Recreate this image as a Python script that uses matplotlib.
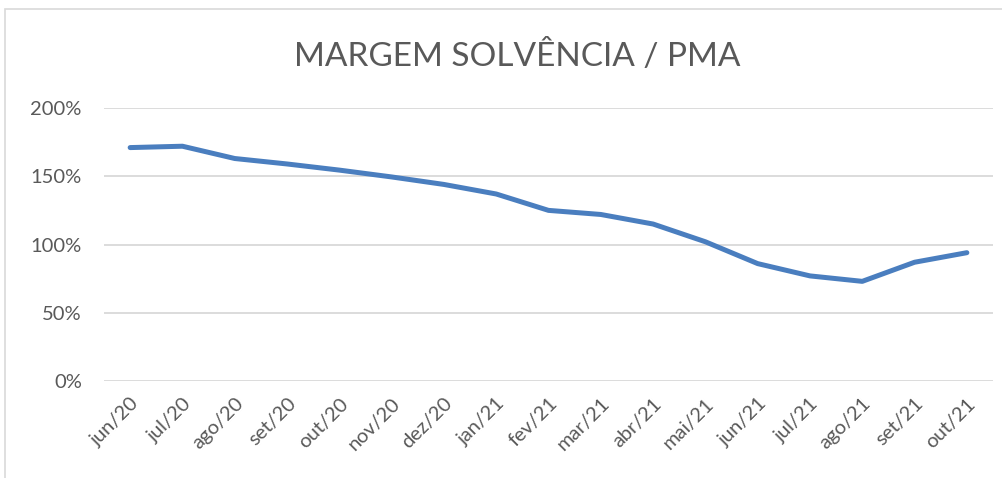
import matplotlib
matplotlib.use("Agg")
import matplotlib.pyplot as plt
from matplotlib.patches import Rectangle
from matplotlib.ticker import PercentFormatter

# ---- data -----------------------------------------------------------------
months = ["jun/20", "jul/20", "ago/20", "set/20", "out/20", "nov/20", "dez/20",
          "jan/21", "fev/21", "mar/21", "abr/21", "mai/21", "jun/21", "jul/21",
          "ago/21", "set/21", "out/21"]
margem_pma = [171, 172, 163, 159, 154.5, 149.5, 144, 137, 125, 122, 115, 102,
              86, 77, 73, 87, 94]

TXT = "#595959"
LINE = "#4A7EBF"
GRID = "#D9D9D9"
plt.rcParams["font.family"] = ["Lato", "DejaVu Sans"]

fig = plt.figure(figsize=(10.03, 4.78), dpi=100)
ax = fig.add_axes([104 / 1003, 1 - 381 / 478, 889 / 1003, 273 / 478])

x = range(len(months))
ax.plot(x, margem_pma, color=LINE, lw=3.6, solid_capstyle="round",
        solid_joinstyle="round", zorder=3)

ax.set_xlim(-0.5, len(months) - 0.5)
ax.set_ylim(0, 200)
ax.set_yticks([0, 50, 100, 150, 200])
ax.yaxis.set_major_formatter(PercentFormatter(decimals=0))
ax.grid(axis="y", color=GRID, lw=1.3)
ax.set_axisbelow(True)
for s in ax.spines.values():
    s.set_visible(False)
ax.tick_params(axis="both", length=0, colors=TXT, labelsize=14.5)
ax.tick_params(axis="y", pad=16)
ax.set_xticks(list(x))
ax.set_xticklabels(months, rotation=45, ha="right", va="top",
                   rotation_mode="anchor")
ax.tick_params(axis="x", pad=10)

fig.text(517 / 1003, 1 - 56 / 478, "MARGEM SOLVÊNCIA / PMA", ha="center",
         va="center", fontsize=24, color=TXT)

# chart-area frame, as in the spreadsheet export
fig.patches.append(Rectangle((5 / 1003, -0.1), 1.2, 1 - 9 / 478 + 0.1,
                             transform=fig.transFigure, fill=False,
                             ec=GRID, lw=1.2))

fig.savefig("out.png", dpi=100)
